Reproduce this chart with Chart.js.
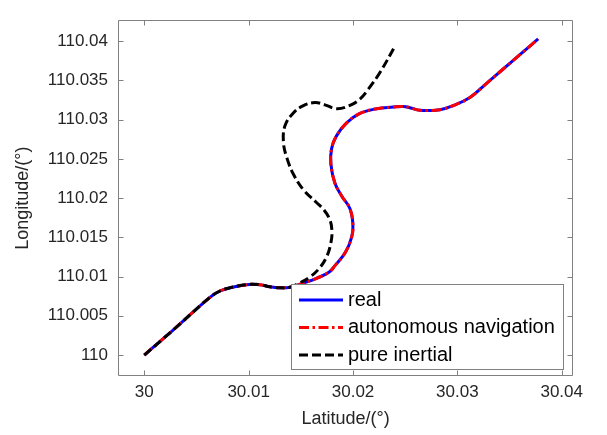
<!DOCTYPE html>
<html>
<head>
<meta charset="utf-8">
<script src="https://cdn.jsdelivr.net/npm/chart.js@4.4.0/dist/chart.umd.min.js"></script>
<style>
html,body{margin:0;padding:0;background:#fff;}
#wrap{width:607px;height:435px;position:relative;}
</style>
</head>
<body>
<div id="wrap"><canvas id="c" width="607" height="435"></canvas></div>
<script>
// ---- data ----
const seriesNames = ['real', 'autonomous navigation', 'pure inertial'];

const realLat = [30.0000, 30.00179, 30.00345, 30.00629, 30.00725, 30.00821, 30.00981, 30.01108, 30.01204, 30.01300,
  30.01396, 30.01523, 30.01651, 30.01769, 30.01827, 30.01927, 30.01987, 30.01999, 30.01970, 30.01891,
  30.01827, 30.01788, 30.01795, 30.01843, 30.01939, 30.02066, 30.02226, 30.02385, 30.02481, 30.02545,
  30.02641, 30.02833, 30.02960, 30.03120, 30.03280, 30.03439, 30.03599, 30.03774];
const realLon = [110.0000, 110.00206, 110.00400, 110.00736, 110.00816, 110.00857, 110.00897, 110.00897, 110.00869, 110.00857,
  110.00864, 110.00918, 110.00978, 110.01055, 110.01139, 110.01309, 110.01503, 110.01664, 110.01867, 110.02028,
  110.02190, 110.02433, 110.02634, 110.02796, 110.02958, 110.03079, 110.03139, 110.03160, 110.03167, 110.03152,
  110.03119, 110.03127, 110.03179, 110.03281, 110.03463, 110.03645, 110.03827, 110.04028];

const autoLat = [30.0000, 30.00179, 30.00345, 30.00629, 30.00725, 30.00821, 30.00981, 30.01108, 30.01204, 30.01300,
  30.01396, 30.01523, 30.01651, 30.01769, 30.01827, 30.01927, 30.01987, 30.01999, 30.01970, 30.01891,
  30.01827, 30.01788, 30.01795, 30.01843, 30.01939, 30.02066, 30.02226, 30.02385, 30.02481, 30.02545,
  30.02641, 30.02833, 30.02960, 30.03120, 30.03280, 30.03439, 30.03599, 30.03774];
const autoLon = [110.0000, 110.00206, 110.00400, 110.00736, 110.00816, 110.00857, 110.00897, 110.00897, 110.00869, 110.00857,
  110.00864, 110.00918, 110.00978, 110.01055, 110.01139, 110.01309, 110.01503, 110.01664, 110.01867, 110.02028,
  110.02190, 110.02433, 110.02634, 110.02796, 110.02958, 110.03079, 110.03139, 110.03160, 110.03167, 110.03152,
  110.03119, 110.03127, 110.03179, 110.03281, 110.03463, 110.03645, 110.03827, 110.04028];

const inertLat = [30.0000, 30.00179, 30.00345, 30.00629, 30.00725, 30.00821, 30.00981, 30.01108, 30.01204, 30.01300,
  30.01396, 30.01472, 30.01587, 30.01683, 30.01750, 30.01788, 30.01798, 30.01779, 30.01722, 30.01645,
  30.01530, 30.01434, 30.01367, 30.01333, 30.01348, 30.01424, 30.01520, 30.01635, 30.01731, 30.01846,
  30.01971, 30.02066, 30.02143, 30.02258, 30.02406];
const inertLon = [110.0000, 110.00206, 110.00400, 110.00736, 110.00816, 110.00857, 110.00897, 110.00897, 110.00869, 110.00857,
  110.00864, 110.00909, 110.00994, 110.01115, 110.01261, 110.01430, 110.01576, 110.01721, 110.01848, 110.01950,
  110.02097, 110.02291, 110.02509, 110.02715, 110.02921, 110.03079, 110.03176, 110.03218, 110.03188, 110.03139,
  110.03182, 110.03261, 110.03382, 110.03600, 110.03945];

const xTicks = [30, 30.01, 30.02, 30.03, 30.04];
const xTickLabels = ['30', '30.01', '30.02', '30.03', '30.04'];
const yTicks = [110, 110.005, 110.01, 110.015, 110.02, 110.025, 110.03, 110.035, 110.04];
const yTickLabels = ['110', '110.005', '110.01', '110.015', '110.02', '110.025', '110.03', '110.035', '110.04'];
const xLimits = [29.99748, 30.04108];
const yLimits = [109.99733, 110.04267];
const xTitle = 'Latitude/(\u00B0)';
const yTitle = 'Longitude/(\u00B0)';

// ---- helpers ----
const FONT = '"Liberation Sans", Arial, sans-serif';
const FRAME = '#808080';
const pts = (xs, ys) => xs.map((v, i) => ({x: v, y: ys[i]}));

const framePlugin = {
  id: 'frameTicks',
  afterDraw(chart) {
    const {ctx, chartArea: a, scales: {x, y}} = chart;
    const L = Math.round(a.left) + 0.5, R = Math.round(a.right) - 0.5;
    const T = Math.round(a.top) + 0.5, B = Math.round(a.bottom) - 0.5;
    ctx.save();
    ctx.strokeStyle = FRAME;
    ctx.lineWidth = 1;
    ctx.beginPath();
    ctx.rect(L, T, R - L, B - T);
    const tl = 5;
    x.ticks.forEach(t => {
      const px = Math.round(x.getPixelForValue(t.value)) + 0.5;
      ctx.moveTo(px, B); ctx.lineTo(px, B - tl);
      ctx.moveTo(px, T); ctx.lineTo(px, T + tl);
    });
    y.ticks.forEach(t => {
      const py = Math.round(y.getPixelForValue(t.value)) + 0.5;
      ctx.moveTo(L, py); ctx.lineTo(L + tl, py);
      ctx.moveTo(R, py); ctx.lineTo(R - tl, py);
    });
    ctx.stroke();
    ctx.restore();
  }
};

const legendPlugin = {
  id: 'boxLegend',
  afterDatasetsDraw(chart) {
    const {ctx, chartArea: a} = chart;
    const ds = chart.data.datasets;
    ctx.save();
    ctx.font = '20px ' + FONT;
    let maxW = 0;
    ds.forEach(d => { maxW = Math.max(maxW, ctx.measureText(d.label).width); });
    const padL = 8, lineLen = 44, gap = 5, padR = 9, rowH = 27.5;
    const w = padL + lineLen + gap + maxW + padR;
    const h = 86;
    const right = Math.round(a.right) - 9, bottom = Math.round(a.bottom) - 6;
    const left = Math.round(right - w), top = bottom - h;
    ctx.fillStyle = '#fff';
    ctx.fillRect(left, top, right - left, h);
    ctx.strokeStyle = FRAME;
    ctx.lineWidth = 1;
    ctx.strokeRect(left + 0.5, top + 0.5, right - left - 1, h - 1);
    ds.forEach((d, i) => {
      const cy = top + 16 + i * rowH;
      ctx.save();
      ctx.strokeStyle = d.borderColor;
      ctx.lineWidth = d.borderWidth;
      ctx.lineCap = 'butt';
      ctx.setLineDash(d.borderDash || []);
      ctx.beginPath();
      ctx.moveTo(left + padL, cy);
      ctx.lineTo(left + padL + lineLen, cy);
      ctx.stroke();
      ctx.restore();
      ctx.fillStyle = '#000';
      ctx.textBaseline = 'middle';
      ctx.textAlign = 'left';
      ctx.fillText(d.label, left + padL + lineLen + gap, cy);
    });
    ctx.restore();
  }
};

new Chart(document.getElementById('c'), {
  type: 'scatter',
  data: {
    datasets: [
      {label: seriesNames[0], data: pts(realLat, realLon), showLine: true, borderColor: '#0000ff',
       borderWidth: 3, pointRadius: 0, tension: 0.4, order: 3},
      {label: seriesNames[1], data: pts(autoLat, autoLon), showLine: true, borderColor: '#ff0000',
       borderWidth: 3, borderDash: [10, 3.5, 2.5, 3.5], pointRadius: 0, tension: 0.4, order: 2},
      {label: seriesNames[2], data: pts(inertLat, inertLon), showLine: true, borderColor: '#000000',
       borderWidth: 3, borderDash: [9, 4], pointRadius: 0, tension: 0.4, order: 1}
    ]
  },
  options: {
    responsive: false,
    animation: false,
    devicePixelRatio: 1,
    layout: {padding: {top: 2, right: 34, bottom: 0, left: 0}},
    plugins: {legend: {display: false}, tooltip: {enabled: false}},
    scales: {
      x: {
        type: 'linear', position: 'bottom', min: xLimits[0], max: xLimits[1],
        afterBuildTicks: s => { s.ticks = xTicks.map(v => ({value: v})); },
        afterFit: s => { s.height = 59; },
        grid: {display: false, drawTicks: false},
        border: {display: false},
        ticks: {callback: (v, i) => xTickLabels[i], font: {family: FONT, size: 17}, color: '#262626',
                padding: 6, maxRotation: 0, autoSkip: false},
        title: {display: true, text: xTitle, font: {family: FONT, size: 18}, color: '#262626',
                padding: {top: 0, bottom: 5}}
      },
      y: {
        type: 'linear', position: 'left', min: yLimits[0], max: yLimits[1],
        afterBuildTicks: s => { s.ticks = yTicks.map(v => ({value: v})); },
        afterFit: s => { s.width = 118; },
        grid: {display: false, drawTicks: false},
        border: {display: false},
        ticks: {callback: (v, i) => yTickLabels[i], font: {family: FONT, size: 17}, color: '#262626',
                padding: 10, autoSkip: false},
        title: {display: true, text: yTitle, font: {family: FONT, size: 18}, color: '#262626',
                padding: {top: 12, bottom: 0}}
      }
    }
  },
  plugins: [legendPlugin, framePlugin]
});
</script>
</body>
</html>
